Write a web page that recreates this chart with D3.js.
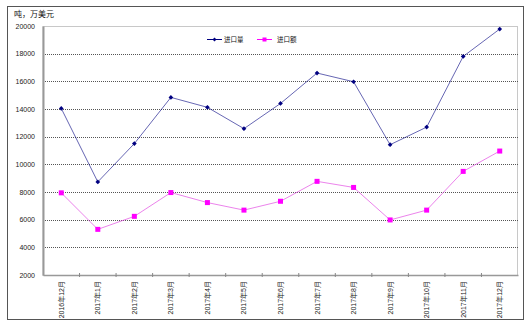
<!DOCTYPE html>
<html>
<head>
<meta charset="utf-8">
<script src="https://cdn.jsdelivr.net/npm/d3@7/dist/d3.min.js"></script>
<style>
  html, body { margin: 0; padding: 0; background: #fff; }
  svg { display: block; }
  text { font-family: "Liberation Sans", Arial, "Noto Sans CJK SC", sans-serif; }
</style>
</head>
<body>
<svg id="chart" width="531" height="326"></svg>
<script>
const categories = ["2016年12月","2017年1月","2017年2月","2017年3月","2017年4月","2017年5月","2017年6月","2017年7月","2017年8月","2017年9月","2017年10月","2017年11月","2017年12月"];
const volume = [14040, 8730, 11500, 14840, 14120, 12580, 14400, 16600, 15970, 11420, 12690, 17800, 19780];
const amount = [7940, 5300, 6240, 7960, 7235, 6690, 7330, 8770, 8330, 5980, 6690, 9490, 10960];
const yTicks = [2000, 4000, 6000, 8000, 10000, 12000, 14000, 16000, 18000, 20000];
const seriesNames = ["进口量", "进口额"];
const unitLabel = "吨，万美元";

const svg = d3.select("#chart");
const pLeft = 43, pRight = 518, pTop = 26, pBottom = 275;

// outer border
svg.append("rect").attr("x", 7.5).attr("y", 6.5).attr("width", 516).attr("height", 313)
  .attr("fill", "#fff").attr("stroke", "#555").attr("stroke-width", 1);

const x = d3.scaleBand().domain(categories).range([pLeft, pRight]).paddingInner(0).paddingOuter(0);
const y = d3.scaleLinear().domain([2000, 20000]).range([pBottom, pTop]);

// plot border (top/right light)
svg.append("rect").attr("x", pLeft).attr("y", pTop + 0.5).attr("width", pRight - pLeft - 0.5).attr("height", pBottom - pTop)
  .attr("fill", "none").attr("stroke", "#c8c8c8").attr("stroke-width", 1);

// gridlines
svg.append("g").selectAll("line").data(yTicks.filter(d => d > 2000 && d < 20000)).join("line")
  .attr("x1", pLeft).attr("x2", pRight)
  .attr("y1", d => Math.round(y(d)) + 0.5).attr("y2", d => Math.round(y(d)) + 0.5)
  .attr("stroke", "#555").attr("stroke-width", 1).attr("stroke-dasharray", "1,1");

// y axis
const yAxis = d3.axisLeft(y).tickValues(yTicks).tickSize(0).tickPadding(8).tickFormat(d3.format("d"));
const gy = svg.append("g").attr("transform", `translate(${pLeft},0)`).call(yAxis);
gy.select(".domain").attr("stroke", "#999").attr("stroke-width", 2);
gy.selectAll("text").attr("font-size", 7).attr("fill", "#222");

// x axis
const xAxis = d3.axisBottom(x).tickSize(0).tickFormat("");
const gx = svg.append("g").attr("transform", `translate(0,${pBottom})`).call(xAxis);
gx.select(".domain").attr("stroke", "#999").attr("stroke-width", 1.5);
// band boundary ticks
svg.append("g").selectAll("line").data(categories.slice(1)).join("line")
  .attr("x1", d => x(d)).attr("x2", d => x(d))
  .attr("y1", pBottom - 2).attr("y2", pBottom + 2)
  .attr("stroke", "#888").attr("stroke-width", 1);
// x labels
svg.append("g").selectAll("text").data(categories).join("text")
  .attr("transform", d => `translate(${x(d) + x.bandwidth() / 2 + 2.5},281) rotate(-90)`)
  .attr("text-anchor", "end")
  .attr("font-size", 7).attr("fill", "#222")
  .text(d => d);

// unit label
svg.append("text").attr("x", 14).attr("y", 17).attr("font-size", 8).attr("fill", "#111").text(unitLabel);

const cx = d => x(d) + x.bandwidth() / 2;
const line = d3.line().x((d, i) => cx(categories[i])).y(d => y(d));

// series 1
svg.append("path").datum(volume).attr("d", line).attr("fill", "none")
  .attr("stroke", "#000080").attr("stroke-opacity", 0.6).attr("stroke-width", 1);
svg.append("g").selectAll("path").data(volume).join("path")
  .attr("d", d3.symbol().type(d3.symbolDiamond2).size(14))
  .attr("transform", (d, i) => `translate(${cx(categories[i])},${y(d)})`)
  .attr("fill", "#000080");

// series 2
svg.append("path").datum(amount).attr("d", line).attr("fill", "none")
  .attr("stroke", "#e040e0").attr("stroke-opacity", 0.65).attr("stroke-width", 1);
svg.append("g").selectAll("rect").data(amount).join("rect")
  .attr("x", (d, i) => cx(categories[i]) - 2.5).attr("y", d => y(d) - 2.5)
  .attr("width", 5).attr("height", 5).attr("fill", "#ff00ff");

// legend
const lg = svg.append("g");
lg.append("line").attr("x1", 207).attr("x2", 222).attr("y1", 39.5).attr("y2", 39.5)
  .attr("stroke", "#000080").attr("stroke-width", 1);
lg.append("path").attr("d", d3.symbol().type(d3.symbolDiamond2).size(10)).attr("transform", "translate(214.5,39.5)").attr("fill", "#000080");
lg.append("text").attr("x", 224).attr("y", 42).attr("font-size", 6.5).attr("fill", "#111").text(seriesNames[0]);
lg.append("line").attr("x1", 257).attr("x2", 272).attr("y1", 39.5).attr("y2", 39.5)
  .attr("stroke", "#ff00ff").attr("stroke-width", 1);
lg.append("rect").attr("x", 262.5).attr("y", 37.5).attr("width", 4).attr("height", 4).attr("fill", "#ff00ff");
lg.append("text").attr("x", 277).attr("y", 42).attr("font-size", 6.5).attr("fill", "#111").text(seriesNames[1]);
</script>
</body>
</html>
